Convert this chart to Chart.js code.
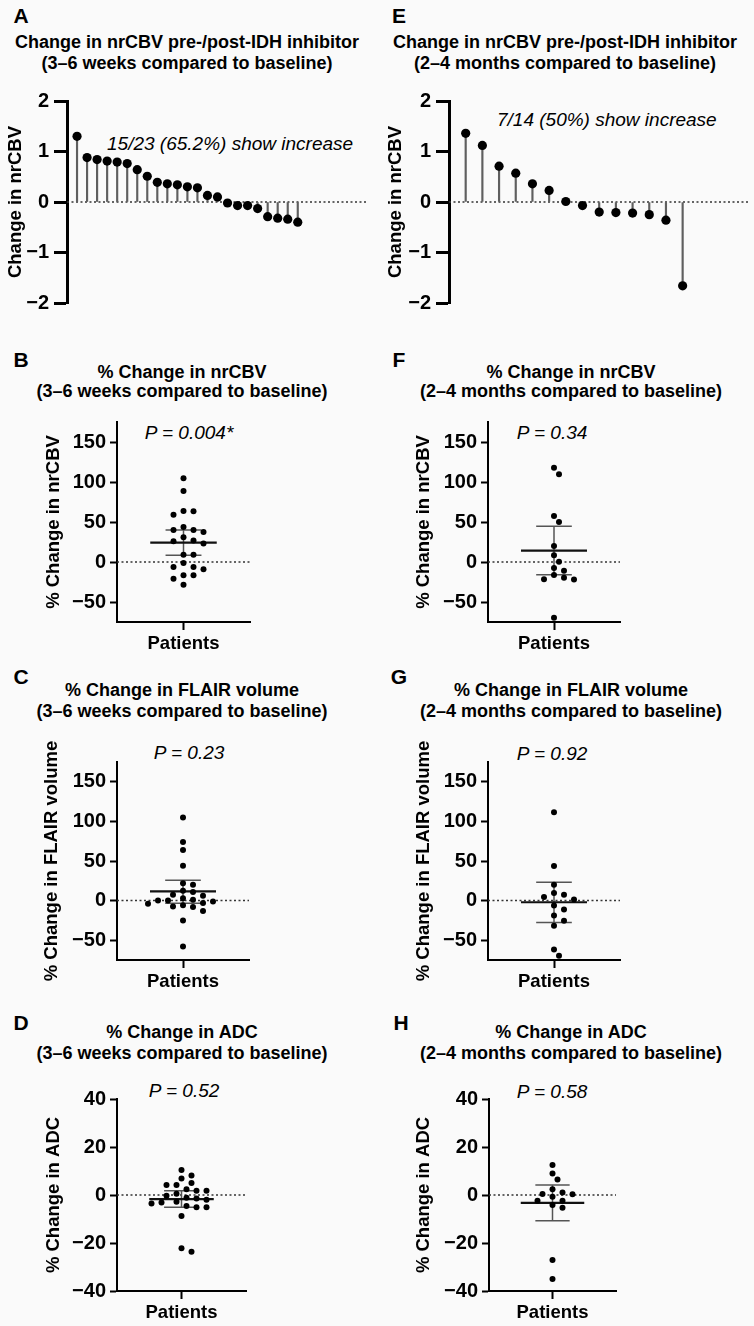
<!DOCTYPE html>
<html>
<head>
<meta charset="utf-8">
<script src="https://cdn.jsdelivr.net/npm/chart.js@4.4.1/dist/chart.umd.min.js"></script>
<style>
  html, body { margin: 0; padding: 0; background: #fafafa; }
  #page { position: relative; width: 754px; height: 1326px; overflow: hidden;
          font-family: "Liberation Sans", Arial, Helvetica, sans-serif; color: #000; }
  canvas { position: absolute; }
  .t { position: absolute; transform: translate(-50%, -50%); white-space: nowrap; line-height: 1; }
  .l { transform: translate(0, -50%); }
  .letter { font-weight: bold; font-size: 21px; }
  .title { font-weight: bold; font-size: 18px; }
  .note { font-style: italic; font-size: 19px; }
</style>
</head>
<body>
<div id="page"></div>
<script>
// --- Data ---
// A / E: change in nrCBV per patient (waterfall, sorted)
const aChange = [1.30, 0.88, 0.84, 0.81, 0.79, 0.76, 0.64, 0.51, 0.39, 0.36, 0.34, 0.30, 0.28, 0.13, 0.10, -0.02, -0.07, -0.07, -0.13, -0.29, -0.32, -0.34, -0.40];
const eChange = [1.36, 1.12, 0.71, 0.57, 0.36, 0.23, 0.01, -0.07, -0.20, -0.21, -0.22, -0.25, -0.36, -1.66];

// B-H: % change per patient, and [mean, lower, upper] of the error bar
const bPct = [104.6, 88.8, 63.8, 63.3, 59, 43.8, 40, 40, 37.5, 30.8, 27, 26, 23, 9.2, 9.2, -1.3, -6.3, -6.3, -9.2, -16.7, -16.7, -20.8, -28.3];
const bStats = [24.2, 8.3, 40];
const fPct = [117.9, 109.6, 57.5, 50, 20, 8.3, 0.4, -7.5, -10.8, -16.3, -19.6, -21.7, -22, -69.6];
const fStats = [14.2, -15.8, 44.6];
const cPct = [105, 74, 64, 44, 22, 20, 12.5, 11, 7.5, 6, 3, 1, 0, 0, -1, -3, -4, -6, -7.5, -8, -13, -25, -58];
const cStats = [11.7, -3.5, 25.8];
const gPct = [111.7, 43.8, 20, 9.6, 7.5, 4.6, 1.3, -6.3, -11.3, -18.8, -25.4, -31.7, -61.7, -69.6];
const gStats = [-2.1, -27.5, 23.3];
const dPct = [10.4, 8.1, 6.9, 5.0, 4.2, 4.2, 2.4, 1.8, 1.8, 0.5, -0.3, -1.1, -1.5, -2.0, -2.8, -3.1, -3.5, -4.6, -5.1, -5.1, -8.7, -22.2, -23.6];
const dStats = [-1.7, -5.1, 1.8];
const hPct = [12.5, 9, 6.5, 2.4, 1, 0.4, 0.3, -0.7, -2.4, -2.4, -4.2, -5.3, -27.1, -35];
const hStats = [-3.3, -10.7, 4.2];

// tick labels
const nrcbvTicks = [-2, -1, 0, 1, 2];
const pctTicks = [-50, 0, 50, 100, 150];
const adcTicks = [-40, -20, 0, 20, 40];
const xLabel = 'Patients';

// --- Layout ---
const FONT = '"Liberation Sans", Arial, Helvetica, sans-serif';
const page = document.getElementById('page');
Chart.defaults.animation = false;
Chart.defaults.font.family = FONT;
Chart.defaults.color = '#000';

const panels = [
  { kind: 'lolli', values: aChange, xMax: 30, L: 67, R: 368, T: 101, B: 303, yMin: -2, yMax: 2, ticks: nrcbvTicks, yTitle: 'Change in nrCBV', titleX: 16 },
  { kind: 'lolli', values: eChange, xMax: 18, L: 449, R: 754, T: 101, B: 303, yMin: -2, yMax: 2, ticks: nrcbvTicks, yTitle: 'Change in nrCBV', titleX: 396 },
  { kind: 'dots', values: bPct, stats: bStats, L: 117, R: 250, T: 422, B: 622, yMin: -75, yMax: 175, ticks: pctTicks, yTitle: '% Change in nrCBV', titleX: 54 },
  { kind: 'dots', values: fPct, stats: fStats, L: 488, R: 620, T: 422, B: 622, yMin: -75, yMax: 175, ticks: pctTicks, yTitle: '% Change in nrCBV', titleX: 424 },
  { kind: 'dots', values: cPct, stats: cStats, L: 117, R: 249, T: 762, B: 960, yMin: -75, yMax: 175, ticks: pctTicks, yTitle: '% Change in FLAIR volume', titleX: 52 },
  { kind: 'dots', values: gPct, stats: gStats, L: 488, R: 620, T: 762, B: 960, yMin: -75, yMax: 175, ticks: pctTicks, yTitle: '% Change in FLAIR volume', titleX: 424 },
  { kind: 'dots', values: dPct, stats: dStats, L: 117, R: 246, T: 1099, B: 1291, yMin: -40, yMax: 40, ticks: adcTicks, yTitle: '% Change in ADC', titleX: 54 },
  { kind: 'dots', values: hPct, stats: hStats, L: 489, R: 616, T: 1099, B: 1291, yMin: -40, yMax: 40, ticks: adcTicks, yTitle: '% Change in ADC', titleX: 424 }
];

const texts = [
  ['A', 21, 15, 'letter'], ['E', 399, 15, 'letter'],
  ['Change in nrCBV pre-/post-IDH inhibitor', 187, 42, 'title'], ['(3–6 weeks compared to baseline)', 187, 63, 'title'],
  ['Change in nrCBV pre-/post-IDH inhibitor', 565, 42, 'title'], ['(2–4 months compared to baseline)', 565, 63, 'title'],
  ['B', 21, 359, 'letter'], ['F', 399, 359, 'letter'],
  ['% Change in nrCBV', 182, 372, 'title'], ['(3–6 weeks compared to baseline)', 182, 391, 'title'],
  ['% Change in nrCBV', 571, 372, 'title'], ['(2–4 months compared to baseline)', 571, 391, 'title'],
  ['C', 21, 676, 'letter'], ['G', 399, 676, 'letter'],
  ['% Change in FLAIR volume', 182, 690, 'title'], ['(3–6 weeks compared to baseline)', 182, 711, 'title'],
  ['% Change in FLAIR volume', 571, 690, 'title'], ['(2–4 months compared to baseline)', 571, 711, 'title'],
  ['D', 21, 1022, 'letter'], ['H', 401, 1022, 'letter'],
  ['% Change in ADC', 182, 1032, 'title'], ['(3–6 weeks compared to baseline)', 182, 1053, 'title'],
  ['% Change in ADC', 571, 1032, 'title'], ['(2–4 months compared to baseline)', 571, 1053, 'title'],
  ['P = 0.004*', 189, 432, 'note'], ['P = 0.34', 552, 432, 'note'],
  ['P = 0.23', 189, 752, 'note'], ['P = 0.92', 552, 753, 'note'],
  ['P = 0.52', 184, 1090, 'note'], ['P = 0.58', 552, 1091, 'note']
];
const leftTexts = [
  ['15/23 (65.2%) show increase', 107, 143, 'note'],
  ['7/14 (50%) show increase', 497, 119, 'note']
];

texts.forEach(([s, x, y, cls]) => addText(s, x, y, cls, false));
leftTexts.forEach(([s, x, y, cls]) => addText(s, x, y, cls, true));

function addText(s, x, y, cls, left) {
  const d = document.createElement('div');
  d.className = 't ' + cls + (left ? ' l' : '');
  d.style.left = x + 'px';
  d.style.top = y + 'px';
  d.textContent = s;
  page.appendChild(d);
}

// beeswarm in pixel space: points closer than a dot row get pushed sideways
const SW_X = 10, SW_Y = 6.8, SW_STEP = 5;
function swarm(pys) {
  const order = pys.map((y, i) => i).sort((a, b) => pys[a] - pys[b]);
  const placed = [];
  const out = new Array(pys.length).fill(0);
  order.forEach(i => {
    for (let k = 0; k < 60; k++) {
      const dx = k === 0 ? 0 : (k % 2 ? 1 : -1) * Math.ceil(k / 2) * SW_STEP;
      const free = placed.every(p => {
        const ex = (p.x - dx) / SW_X, ey = (p.y - pys[i]) / SW_Y;
        return ex * ex + ey * ey >= 1;
      });
      if (free) {
        out[i] = dx;
        placed.push({ x: dx, y: pys[i] });
        break;
      }
    }
  });
  return out;
}

const fmt = v => (v < 0 ? '\u2212' + Math.abs(v) : String(v));

panels.forEach(p => {
  const lolli = p.kind === 'lolli';
  const padTop = lolli ? 14 : 40, padBottom = lolli ? 14 : 8, xH = lolli ? 0 : 30;
  const padRight = Math.min(6, 754 - p.R);
  const cl = p.titleX - 16;
  const ct = p.T - padTop;
  const cw = p.R + padRight - cl;
  const ch = p.B + xH + padBottom - ct;
  const canvas = document.createElement('canvas');
  canvas.width = cw; canvas.height = ch;
  canvas.style.left = cl + 'px'; canvas.style.top = ct + 'px';
  page.appendChild(canvas);

  const axisW = lolli ? 3 : 2;
  const xMin = lolli ? 0 : -1, xMax = lolli ? p.xMax : 1;
  const datasets = [];
  if (lolli) {
    datasets.push({ type: 'scatter', data: p.values.map((v, i) => ({ x: i + 1, y: v })),
      pointRadius: 4.6, backgroundColor: '#000', borderWidth: 0, clip: false });
    datasets.push({ type: 'bar', data: p.values.map((v, i) => ({ x: i + 1, y: v })),
      barThickness: 1.5, backgroundColor: '#5f5f5f', grouped: false });
  } else {
    const [mean, lo, hi] = p.stats;
    datasets.push({ type: 'scatter', data: p.values.map(v => ({ x: 0, y: v })),
      pointRadius: 3, backgroundColor: '#000', borderWidth: 0, clip: false });
    const line = (pts, color, w) => ({ type: 'line', data: pts, borderColor: color, borderWidth: w,
      pointRadius: 0, fill: false, clip: false });
    datasets.push(line([{ x: -0.5, y: mean }, { x: 0.5, y: mean }], '#111', 2.2));
    datasets.push(line([{ x: 0, y: lo }, { x: 0, y: hi }], '#555', 1.5));
    datasets.push(line([{ x: -0.27, y: hi }, { x: 0.27, y: hi }], '#555', 1.5));
    datasets.push(line([{ x: -0.27, y: lo }, { x: 0.27, y: lo }], '#555', 1.5));
  }
  // dotted zero reference
  datasets.push({ type: 'line', data: [{ x: xMin, y: 0 }, { x: xMax, y: 0 }], borderColor: '#333',
    borderWidth: 1.5, borderDash: [2, 2.5], pointRadius: 0, fill: false });

  const chart = new Chart(canvas, {
    type: 'scatter',
    data: { datasets },
    options: {
      responsive: false,
      events: [],
      layout: { padding: { left: 0, top: padTop, right: padRight, bottom: padBottom } },
      plugins: { legend: { display: false }, tooltip: { enabled: false } },
      scales: {
        x: {
          type: 'linear', display: !lolli, min: xMin, max: xMax, offset: false,
          afterBuildTicks: s => { s.ticks = [{ value: 0 }]; },
          afterFit: s => { s.height = xH; s.paddingLeft = 0; s.paddingRight = 0; },
          ticks: { callback: () => xLabel, font: { size: 18.5, weight: 'bold' }, color: '#000', padding: 3, maxRotation: 0 },
          grid: { drawOnChartArea: false, drawTicks: true, tickLength: 8, tickWidth: 2, tickColor: '#000' },
          border: { display: true, color: '#000', width: 2 }
        },
        y: {
          min: p.yMin, max: p.yMax,
          afterBuildTicks: s => { s.ticks = p.ticks.map(v => ({ value: v })); },
          afterFit: s => { s.width = p.L - cl; s.paddingTop = 0; s.paddingBottom = 0; },
          ticks: { callback: v => fmt(v), font: { size: 20, weight: 'bold' }, color: '#000', padding: lolli ? 5 : 4 },
          grid: { drawOnChartArea: false, drawTicks: true, tickLength: lolli ? 13 : 7, tickWidth: axisW, tickColor: '#000' },
          border: { display: true, color: '#000', width: axisW },
          title: { display: true, text: p.yTitle, font: { size: 18.5, weight: 'bold' }, color: '#000', padding: { top: 5, bottom: 0 } }
        }
      }
    }
  });

  if (!lolli) {
    const ys = p.values.map(v => chart.scales.y.getPixelForValue(v));
    const offs = swarm(ys);
    const pxPerX = chart.scales.x.getPixelForValue(1) - chart.scales.x.getPixelForValue(0);
    chart.data.datasets[0].data = p.values.map((v, i) => ({ x: offs[i] / pxPerX, y: v }));
    chart.update('none');
  }
});
</script>
</body>
</html>
